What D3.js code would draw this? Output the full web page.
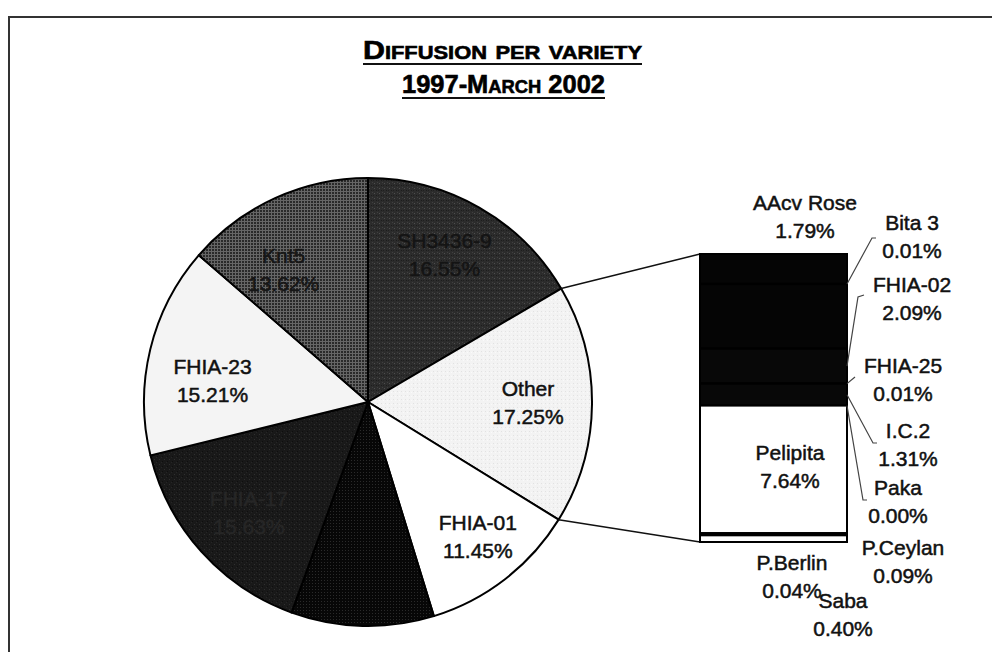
<!DOCTYPE html>
<html>
<head>
<meta charset="utf-8">
<script src="https://cdn.jsdelivr.net/npm/d3@7"></script>
<style>
  html, body { margin: 0; padding: 0; background: #fff; }
  svg { display: block; }
  text { font-family: "Liberation Sans", Arial, sans-serif; }
</style>
</head>
<body>
<svg id="chart" width="992" height="652"></svg>
<script>
// pie slices, clockwise from 12 o'clock
const slices = ['SH3436-9', 'Other', 'FHIA-01', '', 'FHIA-17', 'FHIA-23', 'Knt5'];
const sliceValues = [16.55, 17.25, 11.45, 10.29, 15.63, 15.21, 13.62];

// the "Other" slice broken out into the bar, top to bottom
const barItems = ['AAcv Rose', 'Bita 3', '', 'FHIA-02', 'FHIA-25', 'I.C.2', 'Paka', 'Pelipita', 'P.Ceylan', 'P.Berlin', 'Saba'];
const barValues = [1.79, 0.01, 3.87, 2.09, 0.01, 1.31, 0.00, 7.64, 0.09, 0.04, 0.40];

const titleLines = ['Diffusion per variety', '1997-March 2002'];

const svg = d3.select('#chart');
const fmt = v => d3.format('.2f')(v) + '%';

// textures for the scanned fills
const defs = svg.append('defs');
function pattern(id, size, bg, dots) {
  const p = defs.append('pattern').attr('id', id)
    .attr('width', size).attr('height', size)
    .attr('patternUnits', 'userSpaceOnUse');
  p.append('rect').attr('width', size).attr('height', size).attr('fill', bg);
  dots.forEach(([x, y, w, c]) => p.append('rect')
    .attr('x', x).attr('y', y).attr('width', w).attr('height', w).attr('fill', c));
}
pattern('knt', 3, '#666', [[0, 0, 2, '#2a2a2a']]);
pattern('sh', 5, '#2c2c2c', [[1, 1, 1, '#4e4e4e'], [3, 3, 1, '#1c1c1c'], [4, 0, 1, '#404040'], [0, 3, 1, '#202020']]);
pattern('blk', 3, '#070707', [[1, 1, 1, '#2a2a2a']]);
pattern('f17', 5, '#191919', [[1, 2, 1, '#303030'], [3, 0, 1, '#262626'], [4, 4, 1, '#0e0e0e']]);
pattern('oth', 4, '#f3f3f3', [[1, 1, 1, '#e2e2e2'], [3, 2, 1, '#fafafa']]);

const sliceFills = ['url(#sh)', 'url(#oth)', '#ffffff', 'url(#blk)', 'url(#f17)', '#f4f4f4', 'url(#knt)'];
const labelFills = ['#141414', '#111', '#111', '#000', '#262626', '#111', '#161616'];
// Excel-style nudges of the label spots off the centroid
const labelNudge = { 'SH3436-9': [-3, -12], 'Other': [0, -5], 'FHIA-01': [12, 4], 'FHIA-17': [0, 0], 'FHIA-23': [0, 13], 'Knt5': [-18, 10] };

// frame
svg.append('path')
  .attr('d', 'M9,652 L9,17 L992,17')
  .attr('fill', 'none').attr('stroke', '#333').attr('stroke-width', 2);

// title
const title = svg.append('g').attr('font-family', '"Liberation Sans Narrow", "DejaVu Sans Condensed", sans-serif')
  .attr('font-weight', 'bold').style('font-variant', 'small-caps')
  .attr('stroke', '#000').attr('stroke-width', 0.6);
[[titleLines[0], 59, 363, 642], [titleLines[1], 93, 402, 605]].forEach(([t, y, x0, x1]) => {
  title.append('text')
    .attr('x', x0).attr('y', y)
    .attr('font-size', 25)
    .attr('textLength', x1 - x0).attr('lengthAdjust', 'spacingAndGlyphs')
    .text(t);
  title.append('line')
    .attr('x1', x0).attr('x2', x1).attr('y1', y + 5).attr('y2', y + 5)
    .attr('stroke', '#111').attr('stroke-width', 2);
});

// pie
const cx = 368, cy = 402, r = 224;
const pie = d3.pie().sort(null).value(d => d.value).startAngle(0).endAngle(2 * Math.PI);
const arcs = pie(slices.map((name, i) => ({ name, value: sliceValues[i], i })));
const arc = d3.arc().innerRadius(0).outerRadius(r);
const labelArc = d3.arc().innerRadius(160).outerRadius(160);

const g = svg.append('g').attr('transform', `translate(${cx},${cy})`);
g.selectAll('path.slice')
  .data(arcs)
  .join('path')
  .attr('class', 'slice')
  .attr('d', arc)
  .attr('fill', d => sliceFills[d.data.i])
  .attr('stroke', '#000')
  .attr('stroke-width', 2)
  .attr('stroke-linejoin', 'round');

g.selectAll('text.lbl')
  .data(arcs.filter(d => d.data.name !== ''))
  .join('text')
  .attr('class', 'lbl')
  .attr('text-anchor', 'middle')
  .attr('font-size', 21)
  .attr('fill', d => labelFills[d.data.i])
  .attr('stroke', d => labelFills[d.data.i])
  .attr('stroke-width', 0.5)
  .each(function (d) {
    const [x0, y0] = labelArc.centroid(d);
    const [dx, dy] = labelNudge[d.data.name];
    const x = x0 + dx, y = y0 + dy;
    const t = d3.select(this);
    t.append('tspan').attr('x', x).attr('y', y - 3).text(d.data.name);
    t.append('tspan').attr('x', x).attr('y', y + 25).text(fmt(d.data.value));
  });

// bar of the "Other" slice
const other = arcs[1];
const barX = 700, barW = 147;
const yBar = d3.scaleLinear().domain([0, d3.sum(barValues)]).range([254, 542]);
const stack = barValues.map((v, i) => {
  const y0 = d3.sum(barValues.slice(0, i));
  return { name: barItems[i], value: v, y0, y1: y0 + v, i };
});
const barFills = ['#050505', '#050505', '#050505', '#080808', '#080808', '#080808', '#080808', '#ffffff', '#000', '#000', '#ffffff'];

// connector lines from the pie to the bar
const edge = a => [cx + r * Math.sin(a), cy - r * Math.cos(a)];
[[edge(other.startAngle), [barX, yBar(0)]], [edge(other.endAngle), [barX, yBar.range()[1]]]].forEach(([p, q]) => {
  svg.append('line')
    .attr('x1', p[0]).attr('y1', p[1]).attr('x2', q[0]).attr('y2', q[1])
    .attr('stroke', '#111').attr('stroke-width', 1.5);
});

svg.selectAll('rect.seg')
  .data(stack)
  .join('rect')
  .attr('class', 'seg')
  .attr('x', barX)
  .attr('y', d => yBar(d.y0))
  .attr('width', barW)
  .attr('height', d => yBar(d.y1) - yBar(d.y0))
  .attr('fill', d => barFills[d.i])
  .attr('stroke', '#000')
  .attr('stroke-width', 2);

// bar labels: text centre, first baseline, leader end (null = no leader)
const barLabelPos = {
  'AAcv Rose': [805, 210, null],
  'Bita 3': [912, 230, [[872, 238], [876, 238]]],
  'FHIA-02': [912, 292, [[858, 297], [864, 295]]],
  'FHIA-25': [903, 373, [[855, 377]]],
  'I.C.2': [908, 438, [[873, 443], [877, 443]]],
  'Paka': [898, 495, [[863, 500], [867, 500]]],
  'Pelipita': [790, 460, null],
  'P.Ceylan': [903, 555, null],
  'P.Berlin': [792, 570, null],
  'Saba': [843, 608, null]
};

stack.filter(d => d.name !== '').forEach(d => {
  const [x, y, leader] = barLabelPos[d.name];
  if (leader) {
    const ym = yBar((d.y0 + d.y1) / 2);
    svg.append('path')
      .attr('d', d3.line()([[barX + barW, ym], ...leader]))
      .attr('fill', 'none').attr('stroke', '#444').attr('stroke-width', 1.2);
  }
  const t = svg.append('text').attr('text-anchor', 'middle').attr('font-size', 21)
    .attr('fill', '#111').attr('stroke', '#111').attr('stroke-width', 0.5);
  t.append('tspan').attr('x', x).attr('y', y).text(d.name);
  t.append('tspan').attr('x', x).attr('y', y + 28).text(fmt(d.value));
});
</script>
</body>
</html>
